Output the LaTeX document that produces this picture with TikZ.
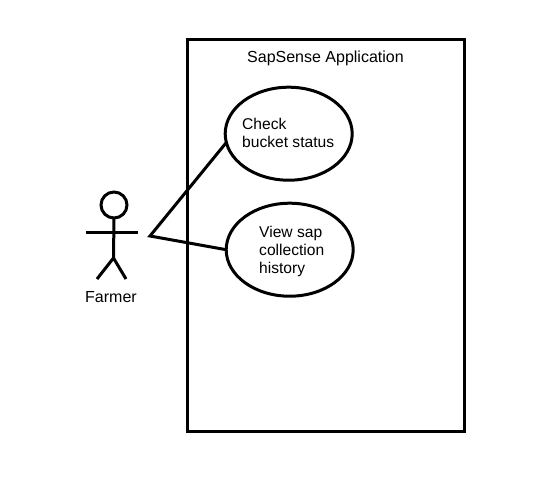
\documentclass[tikz,border=0pt]{standalone}
\usepackage{fontspec}
\setmainfont{Liberation Sans}
\usetikzlibrary{shapes.geometric}
\tikzset{
  ln/.style={line width=3pt,black},
  usecase/.style={ellipse,draw,line width=3pt,minimum width=127pt,minimum height=93pt,inner sep=0pt,outer sep=0pt},
  lbl/.style={inner sep=0pt,anchor=base west,align=left,font=\fontsize{16}{18}\selectfont,text=black},
  lblsm/.style={lbl,font=\fontsize{15.6}{18}\selectfont},
}
\begin{document}
\begin{tikzpicture}[x=1pt,y=-1pt]
\useasboundingbox (0,0) rectangle (545,501);
\fill[white] (0,0) rectangle (545,501);
\node[draw,ln,minimum width=277pt,minimum height=392pt,inner sep=0pt,outer sep=0pt] (sys) at (325.5,235) {};
\node[usecase] (uc1) at (288.7,133.7) {};
\node[usecase] (uc2) at (289.7,249.7) {};
\node[lbl] (title) at (247,62) {SapSense Application};
\node[lblsm] (t1a) at (242,129) {Check};
\node[lblsm] (t1b) at (242,147) {bucket status};
\node[lblsm] (t2a) at (259,237) {View sap};
\node[lblsm] (t2b) at (259,255) {collection};
\node[lblsm] (t2c) at (259,273) {history};
\node[lbl] (farmer) at (85,302) {Farmer};
% actor
\node[circle,draw,ln,minimum size=26pt,inner sep=0pt,outer sep=0pt] (head) at (114,205) {};
\coordinate (hip) at (113.5,258);
\coordinate (armL) at (86,232);
\coordinate (armR) at (138,232);
\coordinate (legL) at (97,279);
\coordinate (legR) at (126,279);
\draw[ln] (head.south) -- (hip);
\draw[ln] (armL) -- (armR);
\draw[ln] (legL) -- (hip) -- (legR);
% connectors
\coordinate (j) at (150,236);
\draw[ln,line join=miter] (uc1.188) -- (j) -- (uc2.west);
\end{tikzpicture}
\end{document}
